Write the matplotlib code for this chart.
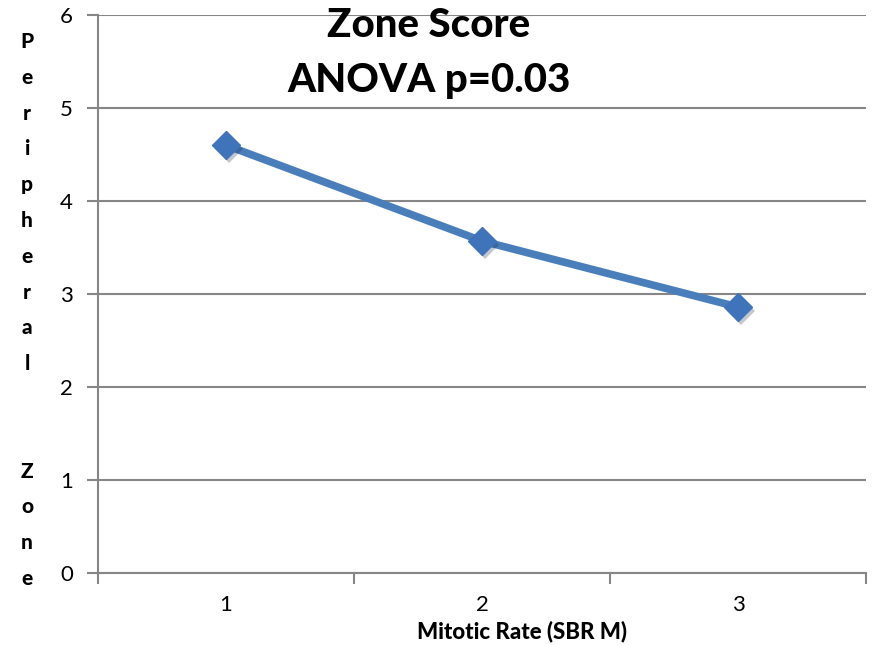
import matplotlib
matplotlib.use("Agg")
import matplotlib.pyplot as plt
import matplotlib.patheffects as pe
from matplotlib.ticker import FixedLocator

plt.rcParams['font.family'] = ['Lato', 'DejaVu Sans']

# data
categories = [1, 2, 3]
zone_score = [4.6, 3.57, 2.86]
yticks = [0, 1, 2, 3, 4, 5, 6]
title = "Zone Score\nANOVA p=0.03"
xlabel = "Mitotic Rate (SBR M)"
ylabel = "Peripheral  Zone"

grey = '#868686'
blue = '#4A7EBB'

fig = plt.figure(figsize=(8.75, 6.46), dpi=100)
ax = fig.add_axes([98 / 875, 1 - 573 / 646, (866 - 98) / 875, (573 - 15) / 646])

ax.plot(categories, zone_score, color=blue, lw=5.5, solid_capstyle='round', zorder=3)
# markers with a soft drop shadow, like the Excel original
ax.plot(categories, zone_score, ls='none', marker='D', ms=14, color='#3F74BA',
        markeredgecolor='#3F74BA', zorder=4,
        path_effects=[pe.SimplePatchShadow(offset=(2, -3), alpha=0.25), pe.Normal()])

ax.set_xlim(0.5, 3.5)
ax.set_ylim(0, 6)
ax.set_yticks(yticks)
ax.set_xticks(categories)
ax.xaxis.set_minor_locator(FixedLocator([0.5, 1.5, 2.5, 3.5]))
ax.tick_params(axis='x', which='major', length=0, pad=16, labelsize=16)
ax.tick_params(axis='x', which='minor', length=8, width=1.5, color=grey, direction='out')
ax.tick_params(axis='y', length=8, width=1.5, color=grey, pad=10, labelsize=16)
ax.grid(axis='y', color=grey, lw=1.5)
ax.set_axisbelow(True)

for s in ['top', 'right']:
    ax.spines[s].set_visible(False)
for s in ['left', 'bottom']:
    ax.spines[s].set_color(grey)
    ax.spines[s].set_linewidth(1.5)

fig.text(429 / 875, 1 - 53 / 646, title, ha='center', va='center', fontsize=29,
         fontweight='black', linespacing=1.6)
fig.text(522 / 875, 1 - 631 / 646, xlabel, ha='center', va='center', fontsize=16,
         fontweight='black')
fig.text(27 / 875, 1 - 310 / 646, "\n".join(ylabel), ha='center', va='center',
         fontsize=15, fontweight='black', linespacing=2.05)

fig.savefig('out.png', dpi=100)
